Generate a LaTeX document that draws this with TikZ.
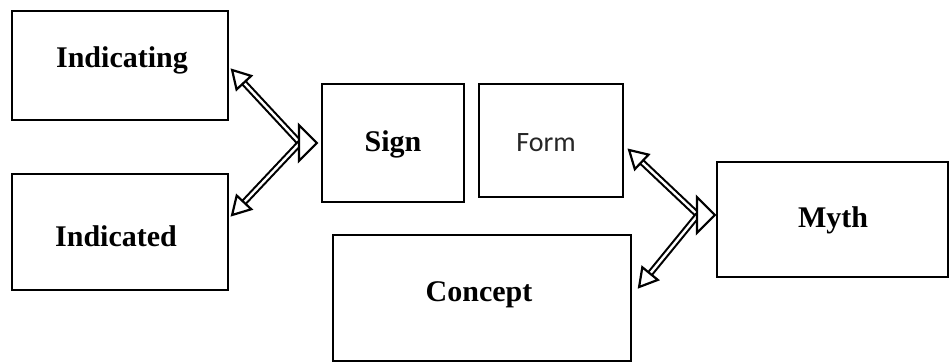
\documentclass[tikz,border=0pt]{standalone}
\usepackage{fontspec}
\setmainfont{Liberation Serif}
\newfontfamily\formfont{Carlito}
\usetikzlibrary{calc}
\newcommand{\openhead}[2]{%
  \draw[headstyle] (#1) -- ($(#1)!20pt!30:(#2)$) -- ($(#1)!20pt!-30:(#2)$) -- cycle;}
\begin{document}
\begin{tikzpicture}[x=1pt,y=-1pt,
  box/.style={draw, line width=2.2pt, inner sep=0pt},
  lbl/.style={font=\fontsize{30}{32}\selectfont\bfseries, anchor=base, inner sep=0pt},
  flbl/.style={font=\formfont\fontsize{28}{30}\selectfont, anchor=base, inner sep=0pt, text=black!85},
  link/.style={draw=black, line width=2.1pt, double=white, double distance=2.4pt},
  headstyle/.style={draw, fill=white, line width=2.2pt, line join=miter}]
\useasboundingbox (0,0) rectangle (949,363);
\fill[white] (0,0) rectangle (949,363);
% boxes
\node[box, minimum width=216pt, minimum height=109pt] (indicating) at (120,65.5) {};
\node[box, minimum width=216pt, minimum height=116pt] (indicated) at (120,232) {};
\node[box, minimum width=142pt, minimum height=118pt] (sign) at (393,143) {};
\node[box, minimum width=144pt, minimum height=113pt] (form) at (551,140.5) {};
\node[box, minimum width=298pt, minimum height=126pt] (concept) at (482,298) {};
\node[box, minimum width=231pt, minimum height=115pt] (myth) at (832.5,219.5) {};
% labels
\node[lbl] (tIndicating) at (122,68) {Indicating};
\node[lbl] (tIndicated) at (116,246) {Indicated};
\node[lbl] (tSign) at (393,152) {Sign};
\node[flbl] (tForm) at (546,152) {Form};
\node[lbl] (tConcept) at (479,301) {Concept};
\node[lbl] (tMyth) at (833,228) {Myth};
% connector points
\coordinate (signtip) at ($(sign.west)+(-4,0)$);
\coordinate (signbase) at ($(sign.west)+(-21,0)$);
\coordinate (indtip1) at ($(indicating.east |- 0,70)+(3,0)$);
\coordinate (indtip2) at ($(indicated.east |- 0,215)+(3,0)$);
\coordinate (mythtip) at ($(myth.west |- 0,215)+(-1,0)$);
\coordinate (mythbase) at ($(myth.west |- 0,215)+(-18,0)$);
\coordinate (formtip) at ($(form.east |- 0,150)+(5,0)$);
\coordinate (concepttip) at ($(concept.east |- 0,287)+(7,0)$);
% links
\draw[link] (signbase) -- ($(indtip1)!10pt!(signbase)$);
\draw[link] (signbase) -- ($(indtip2)!10pt!(signbase)$);
\draw[link] (mythbase) -- ($(formtip)!10pt!(mythbase)$);
\draw[link] (mythbase) -- ($(concepttip)!10pt!(mythbase)$);
% heads
\openhead{indtip1}{signbase}
\openhead{indtip2}{signbase}
\openhead{formtip}{mythbase}
\openhead{concepttip}{mythbase}
\draw[headstyle] (signtip) -- ($(signtip)+(-18,-18)$) -- ($(signtip)+(-18,18)$) -- cycle;
\draw[headstyle] (mythtip) -- ($(mythtip)+(-18,-18)$) -- ($(mythtip)+(-18,18)$) -- cycle;
\end{tikzpicture}
\end{document}
